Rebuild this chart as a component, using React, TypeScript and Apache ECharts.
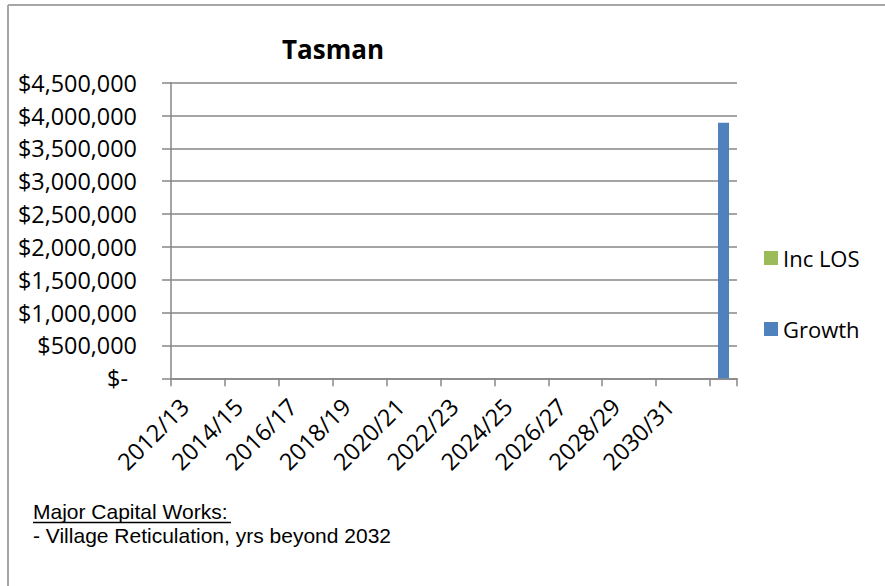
import React, { useEffect, useRef } from "react";
import * as echarts from "echarts";

const categories: string[] = [
  "2012/13", "2013/14", "2014/15", "2015/16", "2016/17", "2017/18", "2018/19",
  "2019/20", "2020/21", "2021/22", "2022/23", "2023/24", "2024/25", "2025/26",
  "2026/27", "2027/28", "2028/29", "2029/30", "2030/31", "2031/32", "",
];
const incLOS: number[] = [0, 0, 0, 0, 0, 0, 0, 0, 0, 0, 0, 0, 0, 0, 0, 0, 0, 0, 0, 0, 0];
const growth: number[] = [0, 0, 0, 0, 0, 0, 0, 0, 0, 0, 0, 0, 0, 0, 0, 0, 0, 0, 0, 0, 3890000];
const seriesNames = ["Inc LOS", "Growth"];
const title = "Tasman";
const noteHeading = "Major Capital Works:";
const noteLine = "- Village Reticulation, yrs beyond 2032";

const FONT = "'Open Sans', sans-serif";
const GRID_COLOR = "#878787";

export default function App() {
  const ref = useRef<HTMLDivElement>(null);
  useEffect(() => {
    if (!ref.current) return;
    const chart = echarts.init(ref.current, undefined, { renderer: "svg" });
    chart.setOption({
      animation: false,
      backgroundColor: "#ffffff",
      title: {
        text: title,
        left: 328,
        textAlign: "center",
        top: 31,
        textStyle: { fontFamily: FONT, fontSize: 26, fontWeight: "bold", color: "#000" },
      },
      legend: {
        orient: "vertical",
        left: 759,
        top: 242,
        itemWidth: 14,
        itemHeight: 14,
        itemGap: 49,
        itemTextGap: 8,
        icon: "rect",
        data: seriesNames,
        textStyle: { fontFamily: FONT, fontSize: 22, color: "#000" },
      },
      grid: { left: 171, right: 148, top: 82.7, bottom: 207.7, containLabel: false },
      xAxis: {
        type: "category",
        data: categories,
        axisLine: { lineStyle: { color: GRID_COLOR, width: 1.5 } },
        axisTick: { show: true, length: 8, lineStyle: { color: GRID_COLOR, width: 1.5 } },
        axisLabel: {
          interval: 1,
          rotate: 45,
          margin: 24,
          fontFamily: FONT,
          fontSize: 23.5,
          color: "#000",
        },
      },
      yAxis: {
        type: "value",
        min: 0,
        max: 4500000,
        interval: 500000,
        axisLine: { show: true, lineStyle: { color: GRID_COLOR, width: 1.5 } },
        axisTick: { show: true, length: 9, lineStyle: { color: GRID_COLOR, width: 1.5 } },
        splitLine: { show: true, lineStyle: { color: GRID_COLOR, width: 1.5 } },
        axisLabel: {
          margin: 34,
          fontFamily: FONT,
          fontSize: 23.4,
          color: "#000",
          formatter: (v: number) =>
            v === 0 ? "{z|$-}" : "$" + v.toLocaleString("en-US"),
          rich: { z: { fontFamily: FONT, fontSize: 23.4, color: "#000", padding: [0, 9, 0, 0] } },
        },
      },
      series: [
        {
          name: seriesNames[0],
          type: "bar",
          stack: "total",
          data: incLOS,
          barWidth: 11,
          itemStyle: { color: "#9bbb59" },
        },
        {
          name: seriesNames[1],
          type: "bar",
          stack: "total",
          data: growth,
          barWidth: 11,
          itemStyle: { color: "#4f81bd" },
        },
      ],
      graphic: [
        { type: "line", shape: { x1: 8, y1: 5, x2: 885, y2: 5 }, style: { stroke: "#a6a6a6", lineWidth: 2 } },
        { type: "line", shape: { x1: 8, y1: 5, x2: 8, y2: 586 }, style: { stroke: "#a6a6a6", lineWidth: 2 } },
        {
          type: "text",
          left: 33,
          top: 501,
          style: { text: noteHeading, fontFamily: "'Liberation Sans', Arial, sans-serif", fontSize: 21, fill: "#000" },
        },
        { type: "line", shape: { x1: 33, y1: 522.5, x2: 231, y2: 522.5 }, style: { stroke: "#000", lineWidth: 1.3 } },
        {
          type: "text",
          left: 33,
          top: 525,
          style: { text: noteLine, fontFamily: "'Liberation Sans', Arial, sans-serif", fontSize: 21, fill: "#000" },
        },
      ],
    });
    return () => chart.dispose();
  }, []);
  return (
    <div
      ref={ref}
      style={{ position: "absolute", left: 0, top: 0, width: 885, height: 586 }}
    />
  );
}
